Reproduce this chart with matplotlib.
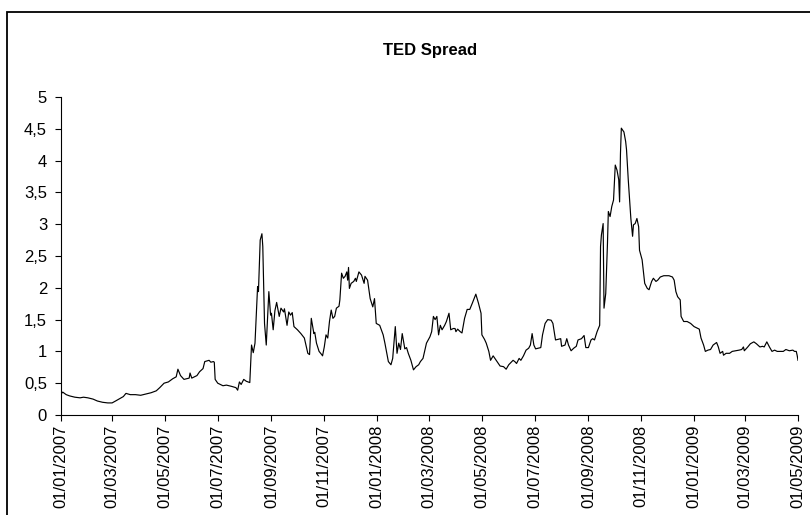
import matplotlib
matplotlib.use("Agg")
import matplotlib.pyplot as plt
import numpy as np
from matplotlib.patches import Rectangle

plt.rcParams['font.family'] = ['Liberation Sans', 'DejaVu Sans']

# TED spread, values
ted_dates = [
    "2007-01-01", "2007-01-03", "2007-01-07", "2007-01-11", "2007-01-17", "2007-01-23", "2007-01-27",
    "2007-02-01", "2007-02-07", "2007-02-12", "2007-02-18", "2007-02-24", "2007-03-01", "2007-03-05",
    "2007-03-10", "2007-03-14", "2007-03-17", "2007-03-22", "2007-03-28", "2007-04-03", "2007-04-09",
    "2007-04-15", "2007-04-21", "2007-04-25", "2007-04-30", "2007-05-05", "2007-05-10", "2007-05-14",
    "2007-05-16", "2007-05-19", "2007-05-23", "2007-05-29", "2007-05-30", "2007-06-01", "2007-06-07",
    "2007-06-10", "2007-06-14", "2007-06-16", "2007-06-21", "2007-06-23", "2007-06-26", "2007-06-27",
    "2007-06-28", "2007-07-01", "2007-07-07", "2007-07-11", "2007-07-17", "2007-07-22", "2007-07-24",
    "2007-07-26", "2007-07-28", "2007-07-31", "2007-08-03", "2007-08-07", "2007-08-09", "2007-08-11",
    "2007-08-13", "2007-08-16", "2007-08-17", "2007-08-19", "2007-08-21", "2007-08-22", "2007-08-24",
    "2007-08-26", "2007-08-29", "2007-08-31", "2007-09-01", "2007-09-03", "2007-09-05", "2007-09-07",
    "2007-09-10", "2007-09-12", "2007-09-15", "2007-09-16", "2007-09-19", "2007-09-21", "2007-09-23",
    "2007-09-25", "2007-09-27", "2007-10-01", "2007-10-05", "2007-10-09", "2007-10-13", "2007-10-15",
    "2007-10-17", "2007-10-20", "2007-10-21", "2007-10-23", "2007-10-26", "2007-10-29", "2007-10-30",
    "2007-11-01", "2007-11-03", "2007-11-05", "2007-11-07", "2007-11-09", "2007-11-11", "2007-11-13",
    "2007-11-15", "2007-11-18", "2007-11-19", "2007-11-21", "2007-11-23", "2007-11-25", "2007-11-27",
    "2007-11-28", "2007-11-29", "2007-11-30", "2007-12-02", "2007-12-05", "2007-12-07", "2007-12-08",
    "2007-12-11", "2007-12-14", "2007-12-17", "2007-12-18", "2007-12-21", "2007-12-24", "2007-12-27",
    "2007-12-29", "2007-12-31",
    "2008-01-04", "2008-01-08", "2008-01-10", "2008-01-14", "2008-01-17", "2008-01-19", "2008-01-22",
    "2008-01-24", "2008-01-26", "2008-01-28", "2008-01-30", "2008-02-02", "2008-02-04", "2008-02-06",
    "2008-02-09", "2008-02-12", "2008-02-15", "2008-02-18", "2008-02-20", "2008-02-23", "2008-02-27",
    "2008-03-02", "2008-03-04", "2008-03-06", "2008-03-08", "2008-03-10", "2008-03-12", "2008-03-14",
    "2008-03-16", "2008-03-19", "2008-03-21", "2008-03-24", "2008-03-26", "2008-03-29", "2008-03-31",
    "2008-04-01", "2008-04-03", "2008-04-06", "2008-04-08", "2008-04-11", "2008-04-14", "2008-04-17",
    "2008-04-20", "2008-04-24", "2008-04-27", "2008-04-30", "2008-05-01", "2008-05-04", "2008-05-06",
    "2008-05-09", "2008-05-11", "2008-05-14", "2008-05-18", "2008-05-22", "2008-05-26", "2008-05-29",
    "2008-06-01", "2008-06-06", "2008-06-08", "2008-06-10", "2008-06-13", "2008-06-15", "2008-06-18",
    "2008-06-21", "2008-06-24", "2008-06-26", "2008-06-28", "2008-06-30", "2008-07-02", "2008-07-05",
    "2008-07-08", "2008-07-10", "2008-07-13", "2008-07-16", "2008-07-20", "2008-07-22", "2008-07-25",
    "2008-07-28", "2008-07-31", "2008-08-01", "2008-08-05", "2008-08-07", "2008-08-09", "2008-08-12",
    "2008-08-15", "2008-08-18", "2008-08-20", "2008-08-24", "2008-08-27", "2008-08-29", "2008-09-01",
    "2008-09-04", "2008-09-06", "2008-09-08", "2008-09-11", "2008-09-14", "2008-09-15", "2008-09-16",
    "2008-09-18", "2008-09-19", "2008-09-21", "2008-09-23", "2008-09-24", "2008-09-26", "2008-09-28",
    "2008-09-30", "2008-10-02", "2008-10-04", "2008-10-06", "2008-10-07", "2008-10-08", "2008-10-09",
    "2008-10-12", "2008-10-14", "2008-10-15", "2008-10-17", "2008-10-20", "2008-10-22", "2008-10-23",
    "2008-10-25", "2008-10-27", "2008-10-29", "2008-10-30", "2008-11-02", "2008-11-05", "2008-11-08",
    "2008-11-10", "2008-11-13", "2008-11-15", "2008-11-18", "2008-11-20", "2008-11-23", "2008-11-27",
    "2008-12-03", "2008-12-07", "2008-12-09", "2008-12-11", "2008-12-13", "2008-12-16", "2008-12-17",
    "2008-12-20", "2008-12-24", "2008-12-28",
    "2009-01-01", "2009-01-07", "2009-01-09", "2009-01-12", "2009-01-14", "2009-01-17", "2009-01-20",
    "2009-01-23", "2009-01-27", "2009-01-29", "2009-01-31", "2009-02-03", "2009-02-04", "2009-02-07",
    "2009-02-11", "2009-02-14", "2009-02-18", "2009-02-22", "2009-02-25", "2009-02-27", "2009-02-28",
    "2009-03-04", "2009-03-07", "2009-03-11", "2009-03-14", "2009-03-18", "2009-03-21", "2009-03-23",
    "2009-03-26", "2009-03-29", "2009-04-01", "2009-04-04", "2009-04-07", "2009-04-10", "2009-04-14",
    "2009-04-17", "2009-04-21", "2009-04-25", "2009-04-27", "2009-04-29", "2009-04-30", "2009-05-01",
]
ted_values = [
    0.33, 0.36, 0.32, 0.30, 0.28, 0.27, 0.28,
    0.27, 0.25, 0.22, 0.20, 0.19, 0.19, 0.22,
    0.26, 0.29, 0.34, 0.32, 0.32, 0.31, 0.33,
    0.35, 0.38, 0.43, 0.50, 0.52, 0.57, 0.60,
    0.72, 0.62, 0.56, 0.58, 0.66, 0.58, 0.62,
    0.68, 0.73, 0.84, 0.86, 0.83, 0.84, 0.83,
    0.56, 0.50, 0.46, 0.47, 0.45, 0.43, 0.39,
    0.52, 0.48, 0.56, 0.53, 0.51, 1.10, 0.98,
    1.13, 2.02, 1.94, 2.75, 2.85, 2.65, 1.44,
    1.10, 1.94, 1.57, 1.60, 1.34, 1.64, 1.77,
    1.55, 1.68, 1.62, 1.67, 1.41, 1.62, 1.57,
    1.61, 1.39, 1.34, 1.28, 1.21, 0.97, 0.95,
    1.52, 1.28, 1.30, 1.13, 1.00, 0.95, 0.93,
    1.07, 1.26, 1.21, 1.47, 1.65, 1.52, 1.55,
    1.68, 1.71, 1.81, 2.23, 2.15, 2.18, 2.25,
    2.12, 2.32, 1.99, 2.07, 2.10, 2.15, 2.10,
    2.25, 2.20, 2.07, 2.18, 2.12, 1.83, 1.70,
    1.83, 1.44,
    1.41, 1.26, 1.13, 0.84, 0.79, 0.89, 1.39,
    0.97, 1.13, 1.03, 1.28, 1.04, 1.06, 0.97,
    0.86, 0.71, 0.76, 0.79, 0.84, 0.89, 1.13,
    1.23, 1.31, 1.55, 1.50, 1.55, 1.26, 1.41,
    1.34, 1.41, 1.47, 1.60, 1.34, 1.36, 1.36,
    1.31, 1.35, 1.31, 1.29, 1.52, 1.66, 1.66,
    1.76, 1.90, 1.76, 1.60, 1.26, 1.19, 1.13,
    1.00, 0.86, 0.93, 0.85, 0.77, 0.76, 0.72,
    0.79, 0.86, 0.84, 0.81, 0.89, 0.86, 0.93,
    1.02, 1.05, 1.10, 1.28, 1.10, 1.04, 1.05,
    1.06, 1.26, 1.44, 1.50, 1.49, 1.44, 1.18,
    1.19, 1.20, 1.08, 1.10, 1.20, 1.10, 1.01,
    1.05, 1.08, 1.18, 1.20, 1.25, 1.06, 1.06,
    1.18, 1.20, 1.18, 1.31, 1.41, 2.65, 2.83,
    3.01, 1.68, 1.91, 2.70, 3.20, 3.12, 3.28,
    3.38, 3.93, 3.85, 3.70, 3.35, 4.11, 4.51,
    4.45, 4.30, 4.17, 3.70, 3.09, 2.81, 2.99,
    3.01, 3.09, 2.96, 2.59, 2.44, 2.07, 1.99,
    1.97, 2.10, 2.15, 2.10, 2.12, 2.17, 2.19,
    2.19, 2.17, 2.12, 1.94, 1.86, 1.81, 1.55,
    1.47, 1.47, 1.44,
    1.39, 1.35, 1.21, 1.10, 1.00, 1.02, 1.03,
    1.10, 1.14, 1.07, 0.97, 1.00, 0.94, 0.97,
    0.97, 1.00, 1.01, 1.02, 1.03, 1.07, 1.01,
    1.07, 1.12, 1.15, 1.12, 1.07, 1.08, 1.07,
    1.15, 1.07, 1.00, 1.02, 1.00, 1.00, 1.00,
    1.03, 1.01, 1.02, 1.00, 1.00, 0.94, 0.86,
]

x_tick_dates = ["2007-01-01", "2007-03-01", "2007-05-01", "2007-07-01", "2007-09-01",
                "2007-11-01", "2008-01-01", "2008-03-01", "2008-05-01", "2008-07-01",
                "2008-09-01", "2008-11-01", "2009-01-01", "2009-03-01", "2009-05-01"]
x_tick_labels = ["01/01/2007", "01/03/2007", "01/05/2007", "01/07/2007", "01/09/2007",
                 "01/11/2007", "01/01/2008", "01/03/2008", "01/05/2008", "01/07/2008",
                 "01/09/2008", "01/11/2008", "01/01/2009", "01/03/2009", "01/05/2009"]
y_ticks = [0, 0.5, 1, 1.5, 2, 2.5, 3, 3.5, 4, 4.5, 5]
y_tick_labels = ["0", "0,5", "1", "1,5", "2", "2,5", "3", "3,5", "4", "4,5", "5"]

dates = np.array(ted_dates, dtype="datetime64[D]")
tick_dates = np.array(x_tick_dates, dtype="datetime64[D]")

fig = plt.figure(figsize=(8.1, 5.15), dpi=100)
ax = fig.add_axes([61 / 810, 1 - 415 / 515, 737 / 810, 318 / 515])
ax.plot(dates, ted_values, color="black", lw=0.85)

ax.set_xlim(tick_dates[0], tick_dates[-1])
ax.set_ylim(0, 5)
ax.set_yticks(y_ticks)
ax.set_yticklabels(y_tick_labels)
ax.set_xticks(tick_dates)
ax.set_xticklabels(x_tick_labels, rotation=90)

for s in ["top", "right"]:
    ax.spines[s].set_visible(False)
for s in ["left", "bottom"]:
    ax.spines[s].set_linewidth(0.8)
ax.tick_params(direction="out", length=4, width=0.8)
ax.tick_params(axis="x", labelsize=12, pad=3)
ax.tick_params(axis="y", labelsize=12, pad=6)

fig.text(430 / 810, 1 - 51 / 515, "TED Spread", ha="center", va="center",
         fontsize=12, fontweight="bold")

# outer chart border (cut off on the right and bottom)
fig.patches.append(Rectangle((7 / 810, -0.05), 1.1, 1.05 - 12 / 515,
                             transform=fig.transFigure, fill=False,
                             ec="black", lw=1.3))

fig.savefig("out.png", dpi=100)
